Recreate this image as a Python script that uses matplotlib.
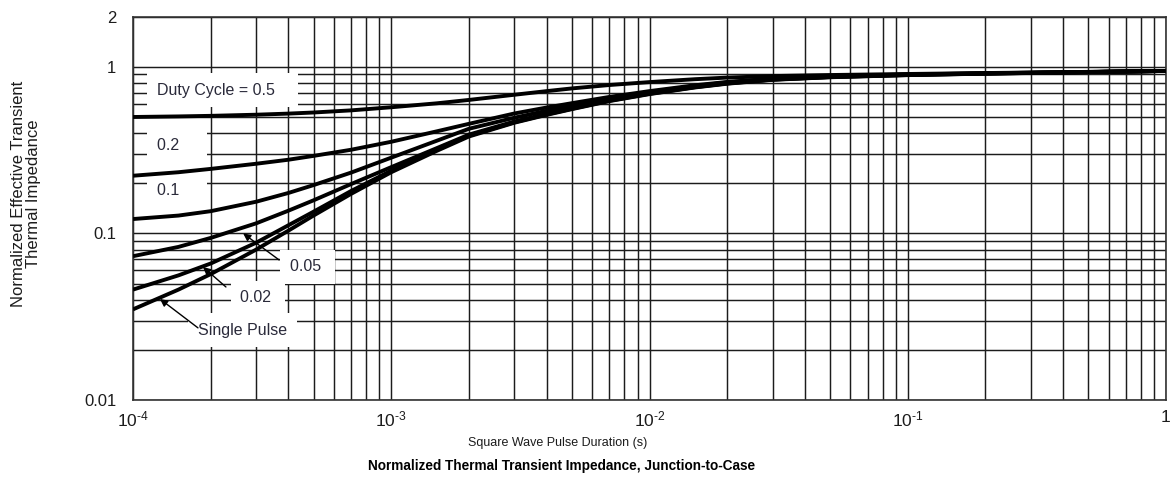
import numpy as np
import matplotlib
matplotlib.use('Agg')
import matplotlib.pyplot as plt
from matplotlib.ticker import FixedLocator, LogLocator, NullFormatter, FixedFormatter

# ---------------- data ----------------
pulse_duration = [1e-4, 1.5e-4, 2e-4, 3e-4, 4e-4, 5e-4, 7e-4, 1e-3, 1.5e-3, 2e-3,
                  3e-3, 4e-3, 5e-3, 7e-3, 1e-2, 1.5e-2, 2e-2, 3e-2, 5e-2, 1e-1,
                  2e-1, 5e-1, 1.0]
duty_0_5 = [0.500, 0.504, 0.508, 0.516, 0.524, 0.532, 0.548, 0.572, 0.604, 0.633,
            0.680, 0.715, 0.742, 0.778, 0.810, 0.843, 0.862, 0.880, 0.893, 0.906,
            0.918, 0.933, 0.945]
duty_0_2 = [0.222, 0.233, 0.244, 0.262, 0.277, 0.292, 0.318, 0.355, 0.410, 0.455,
            0.525, 0.570, 0.605, 0.660, 0.715, 0.775, 0.812, 0.850, 0.878, 0.900,
            0.915, 0.932, 0.945]
duty_0_1 = [0.122, 0.128, 0.136, 0.155, 0.175, 0.195, 0.232, 0.285, 0.360, 0.425,
            0.495, 0.545, 0.585, 0.645, 0.705, 0.768, 0.806, 0.846, 0.875, 0.898,
            0.914, 0.931, 0.945]
duty_0_05 = [0.073, 0.083, 0.094, 0.115, 0.137, 0.158, 0.198, 0.250, 0.325, 0.392,
             0.470, 0.522, 0.565, 0.630, 0.693, 0.758, 0.798, 0.840, 0.870, 0.895,
             0.912, 0.930, 0.945]
duty_0_02 = [0.046, 0.056, 0.066, 0.088, 0.112, 0.135, 0.180, 0.238, 0.318, 0.386,
             0.465, 0.518, 0.560, 0.626, 0.689, 0.755, 0.795, 0.838, 0.868, 0.893,
             0.911, 0.930, 0.945]
single_pulse = [0.035, 0.046, 0.057, 0.080, 0.104, 0.128, 0.173, 0.233, 0.313, 0.382,
                0.462, 0.515, 0.557, 0.623, 0.686, 0.752, 0.792, 0.836, 0.866, 0.892,
                0.910, 0.930, 0.945]
series = [duty_0_5, duty_0_2, duty_0_1, duty_0_05, duty_0_02, single_pulse]

x_ticks = [1e-4, 1e-3, 1e-2, 1e-1, 1.0]
x_tick_labels = [r'$\mathregular{10^{\text{-}4}}$', r'$\mathregular{10^{\text{-}3}}$',
                 r'$\mathregular{10^{\text{-}2}}$', r'$\mathregular{10^{\text{-}1}}$', '1']
y_ticks = [0.01, 0.1, 1.0, 2.0]
y_tick_labels = ['0.01', '0.1', '1', '2']

x_label = 'Square Wave Pulse Duration (s)'
y_label = 'Normalized Effective Transient\nThermal Impedance'
title = 'Normalized Thermal Transient Impedance, Junction-to-Case'

# curve labels: (text, text position)
curve_labels = [('Duty Cycle = 0.5   ', (1.239e-4, 0.726)),
                ('0.2    ', (1.239e-4, 0.335)),
                ('0.1    ', (1.239e-4, 0.180)),
                ('0.05 ', (4.05e-4, 0.0629)),
                ('0.02 ', (2.60e-4, 0.041)),
                ('Single Pulse', (1.785e-4, 0.0263))]
# arrows: (head, tail)
curve_arrows = [((2.67e-4, 0.100), (3.68e-4, 0.0693)),
                ((1.866e-4, 0.0629), (2.29e-4, 0.0477)),
                ((1.272e-4, 0.0404), (1.785e-4, 0.0271))]

# ---------------- fonts ----------------
base = 'Liberation Sans'
plt.rcParams['font.family'] = [base, 'DejaVu Sans']
plt.rcParams['mathtext.fontset'] = 'custom'
plt.rcParams['mathtext.rm'] = base
plt.rcParams['mathtext.it'] = base
plt.rcParams['mathtext.bf'] = base + ':bold'

ink = '#1c1c1c'
fig = plt.figure(figsize=(11.76, 4.83), dpi=100)
ax = fig.add_axes([133 / 1176, 83 / 483, 1033 / 1176, 383.3 / 483])
ax.set_xscale('log')
ax.set_yscale('log')
ax.set_xlim(1e-4, 1.0)
ax.set_ylim(0.01, 2.0)

ax.xaxis.set_major_locator(FixedLocator(x_ticks))
ax.xaxis.set_major_formatter(FixedFormatter(x_tick_labels))
ax.yaxis.set_major_locator(FixedLocator(y_ticks))
ax.yaxis.set_major_formatter(FixedFormatter(y_tick_labels))
ax.xaxis.set_minor_locator(LogLocator(base=10, subs=range(2, 10), numticks=50))
ax.yaxis.set_minor_locator(LogLocator(base=10, subs=range(2, 10), numticks=50))
ax.xaxis.set_minor_formatter(NullFormatter())
ax.yaxis.set_minor_formatter(NullFormatter())
ax.tick_params(which='both', length=0)
ax.tick_params(axis='y', pad=12, labelsize=12, colors=ink)
ax.tick_params(axis='x', pad=7, labelsize=12.5, colors=ink)

ax.set_axisbelow(True)
ax.grid(True, which='both', color=ink, linewidth=1.05)
for s in ax.spines.values():
    s.set_color('#333333')
    s.set_linewidth(1.2)

for ys in series:
    ax.plot(pulse_duration, ys, color='black', linewidth=2.8, zorder=4,
            solid_capstyle='butt', solid_joinstyle='round')

for text, (tx, ty) in curve_labels:
    ax.text(tx, ty, text, fontsize=11.5, color='#2a2a3a', ha='left', va='center',
            zorder=3, bbox=dict(boxstyle='square,pad=0.6', fc='white', ec='none'))

for head, tail in curve_arrows:
    ax.annotate('', xy=head, xytext=tail, zorder=5,
                arrowprops=dict(arrowstyle='-|>', color='black', lw=1.0,
                                mutation_scale=11, shrinkA=0, shrinkB=0))

fig.text(558 / 1176, 1 - 443 / 483, x_label, ha='center', va='center',
         fontsize=9, color=ink)
fig.text(562 / 1176, 1 - 466 / 483, title, ha='center', va='center',
         fontsize=9.8, fontweight='bold', color='black')

fig.text(26 / 1176, 1 - 194 / 483, y_label, rotation=90, ha='center', va='center',
         fontsize=12, color=ink, linespacing=1.0, multialignment='center')

fig.savefig('out.png', dpi=100)
